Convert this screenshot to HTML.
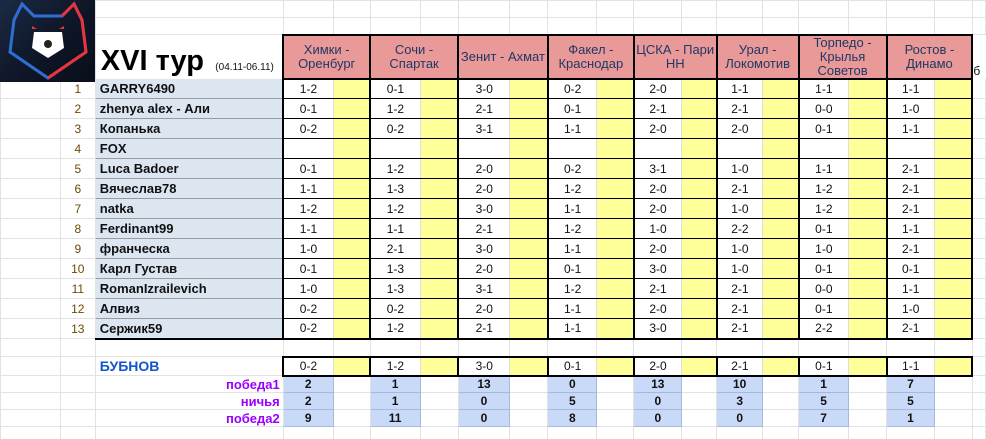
<!DOCTYPE html>
<html><head><meta charset="utf-8"><style>
html,body{margin:0;padding:0;background:#fff;width:986px;height:439px;overflow:hidden}
body{font-family:"Liberation Sans",Arial,sans-serif;position:relative}
table{border-collapse:collapse;table-layout:fixed;position:absolute;left:0;top:0}
td{border:1px solid #e2e2e2;padding:0;font-size:12px;text-align:center;overflow:hidden;white-space:nowrap;color:#111}
.n{color:#6b4a00;font-size:12px}
.nm{background:#dce6f1;text-align:left;padding-left:4px;font-weight:bold;font-size:13px;border:1px solid #9a9a9a;border-right:2px solid #000}
.s{background:#fff;border-top:1px solid #000;border-bottom:1px solid #000;border-left:2px solid #000;border-right:1px solid #ddd}
.y{background:#ffff99;border-top:1px solid #000;border-bottom:1px solid #000;border-right:2px solid #000;border-left:1px solid #ddd}
.h{background:#ea9999;border:2px solid #000;color:#1f3864;font-size:13px;white-space:normal;line-height:14px}
.last td.s,.last td.y,.last td.nm{border-bottom:2px solid #000}
.bb td.s,.bb td.y{border-top:2px solid #000;border-bottom:2px solid #000}
.st{background:#c9daf8;font-weight:bold;border:1px solid #a7b9d8}
.lb{color:#9900ff;font-weight:bold;text-align:right;padding-right:3px;font-size:13px}
</style></head><body>
<table>
<colgroup><col style="width:60px"><col style="width:35px"><col style="width:188px">
<col style="width:50px"><col style="width:37px"><col style="width:50px"><col style="width:38px"><col style="width:52px"><col style="width:38px"><col style="width:49px"><col style="width:37px"><col style="width:48px"><col style="width:35px"><col style="width:46px"><col style="width:36px"><col style="width:50px"><col style="width:38px"><col style="width:48px"><col style="width:38px"><col style="width:13px"></colgroup>
<tr style="height:17px"><td></td><td></td><td></td><td></td><td></td><td></td><td></td><td></td><td></td><td></td><td></td><td></td><td></td><td></td><td></td><td></td><td></td><td></td><td></td><td></td></tr>
<tr style="height:17px"><td></td><td></td><td></td><td></td><td></td><td></td><td></td><td></td><td></td><td></td><td></td><td></td><td></td><td></td><td></td><td></td><td></td><td></td><td></td><td></td></tr>
<tr style="height:44px"><td></td><td></td><td style="text-align:left;vertical-align:bottom;padding-left:5px;border-color:#fff"><span style="font-size:29px;font-weight:bold;color:#000;line-height:34px">XVI тур</span> <span style="font-size:10px;margin-left:8px">(04.11-06.11)</span></td>
<td class="h" colspan="2">Химки -<br>Оренбург</td><td class="h" colspan="2">Сочи -<br>Спартак</td><td class="h" colspan="2">Зенит - Ахмат</td><td class="h" colspan="2">Факел -<br>Краснодар</td><td class="h" colspan="2">ЦСКА - Пари<br>НН</td><td class="h" colspan="2">Урал -<br>Локомотив</td><td class="h" colspan="2">Торпедо -<br>Крылья<br>Советов</td><td class="h" colspan="2">Ростов -<br>Динамо</td><td style="text-align:left;vertical-align:bottom;border-color:#fff">б</td></tr>
<tr style="height:20px"><td></td><td class="n">1</td><td class="nm">GARRY6490</td><td class="s">1-2</td><td class="y"></td><td class="s">0-1</td><td class="y"></td><td class="s">3-0</td><td class="y"></td><td class="s">0-2</td><td class="y"></td><td class="s">2-0</td><td class="y"></td><td class="s">1-1</td><td class="y"></td><td class="s">1-1</td><td class="y"></td><td class="s">1-1</td><td class="y"></td><td></td></tr>
<tr style="height:20px"><td></td><td class="n">2</td><td class="nm">zhenya alex - Али</td><td class="s">0-1</td><td class="y"></td><td class="s">1-2</td><td class="y"></td><td class="s">2-1</td><td class="y"></td><td class="s">0-1</td><td class="y"></td><td class="s">2-1</td><td class="y"></td><td class="s">2-1</td><td class="y"></td><td class="s">0-0</td><td class="y"></td><td class="s">1-0</td><td class="y"></td><td></td></tr>
<tr style="height:20px"><td></td><td class="n">3</td><td class="nm">Копанька</td><td class="s">0-2</td><td class="y"></td><td class="s">0-2</td><td class="y"></td><td class="s">3-1</td><td class="y"></td><td class="s">1-1</td><td class="y"></td><td class="s">2-0</td><td class="y"></td><td class="s">2-0</td><td class="y"></td><td class="s">0-1</td><td class="y"></td><td class="s">1-1</td><td class="y"></td><td></td></tr>
<tr style="height:20px"><td></td><td class="n">4</td><td class="nm">FOX</td><td class="s"></td><td class="y"></td><td class="s"></td><td class="y"></td><td class="s"></td><td class="y"></td><td class="s"></td><td class="y"></td><td class="s"></td><td class="y"></td><td class="s"></td><td class="y"></td><td class="s"></td><td class="y"></td><td class="s"></td><td class="y"></td><td></td></tr>
<tr style="height:20px"><td></td><td class="n">5</td><td class="nm">Luca Badoer</td><td class="s">0-1</td><td class="y"></td><td class="s">1-2</td><td class="y"></td><td class="s">2-0</td><td class="y"></td><td class="s">0-2</td><td class="y"></td><td class="s">3-1</td><td class="y"></td><td class="s">1-0</td><td class="y"></td><td class="s">1-1</td><td class="y"></td><td class="s">2-1</td><td class="y"></td><td></td></tr>
<tr style="height:20px"><td></td><td class="n">6</td><td class="nm">Вячеслав78</td><td class="s">1-1</td><td class="y"></td><td class="s">1-3</td><td class="y"></td><td class="s">2-0</td><td class="y"></td><td class="s">1-2</td><td class="y"></td><td class="s">2-0</td><td class="y"></td><td class="s">2-1</td><td class="y"></td><td class="s">1-2</td><td class="y"></td><td class="s">2-1</td><td class="y"></td><td></td></tr>
<tr style="height:20px"><td></td><td class="n">7</td><td class="nm">natka</td><td class="s">1-2</td><td class="y"></td><td class="s">1-2</td><td class="y"></td><td class="s">3-0</td><td class="y"></td><td class="s">1-1</td><td class="y"></td><td class="s">2-0</td><td class="y"></td><td class="s">1-0</td><td class="y"></td><td class="s">1-2</td><td class="y"></td><td class="s">2-1</td><td class="y"></td><td></td></tr>
<tr style="height:20px"><td></td><td class="n">8</td><td class="nm">Ferdinant99</td><td class="s">1-1</td><td class="y"></td><td class="s">1-1</td><td class="y"></td><td class="s">2-1</td><td class="y"></td><td class="s">1-2</td><td class="y"></td><td class="s">1-0</td><td class="y"></td><td class="s">2-2</td><td class="y"></td><td class="s">0-1</td><td class="y"></td><td class="s">1-1</td><td class="y"></td><td></td></tr>
<tr style="height:20px"><td></td><td class="n">9</td><td class="nm">франческа</td><td class="s">1-0</td><td class="y"></td><td class="s">2-1</td><td class="y"></td><td class="s">3-0</td><td class="y"></td><td class="s">1-1</td><td class="y"></td><td class="s">2-0</td><td class="y"></td><td class="s">1-0</td><td class="y"></td><td class="s">1-0</td><td class="y"></td><td class="s">2-1</td><td class="y"></td><td></td></tr>
<tr style="height:20px"><td></td><td class="n">10</td><td class="nm">Карл Густав</td><td class="s">0-1</td><td class="y"></td><td class="s">1-3</td><td class="y"></td><td class="s">2-0</td><td class="y"></td><td class="s">0-1</td><td class="y"></td><td class="s">3-0</td><td class="y"></td><td class="s">1-0</td><td class="y"></td><td class="s">0-1</td><td class="y"></td><td class="s">0-1</td><td class="y"></td><td></td></tr>
<tr style="height:20px"><td></td><td class="n">11</td><td class="nm">RomanIzrailevich</td><td class="s">1-0</td><td class="y"></td><td class="s">1-3</td><td class="y"></td><td class="s">3-1</td><td class="y"></td><td class="s">1-2</td><td class="y"></td><td class="s">2-1</td><td class="y"></td><td class="s">2-1</td><td class="y"></td><td class="s">0-0</td><td class="y"></td><td class="s">1-1</td><td class="y"></td><td></td></tr>
<tr style="height:20px"><td></td><td class="n">12</td><td class="nm">Алвиз</td><td class="s">0-2</td><td class="y"></td><td class="s">0-2</td><td class="y"></td><td class="s">2-0</td><td class="y"></td><td class="s">1-1</td><td class="y"></td><td class="s">2-0</td><td class="y"></td><td class="s">2-1</td><td class="y"></td><td class="s">0-1</td><td class="y"></td><td class="s">1-0</td><td class="y"></td><td></td></tr>
<tr style="height:20px" class="last"><td></td><td class="n">13</td><td class="nm">Сержик59</td><td class="s">0-2</td><td class="y"></td><td class="s">1-2</td><td class="y"></td><td class="s">2-1</td><td class="y"></td><td class="s">1-1</td><td class="y"></td><td class="s">3-0</td><td class="y"></td><td class="s">2-1</td><td class="y"></td><td class="s">2-2</td><td class="y"></td><td class="s">2-1</td><td class="y"></td><td></td></tr>
<tr style="height:18px"><td></td><td></td><td></td><td></td><td></td><td></td><td></td><td></td><td></td><td></td><td></td><td></td><td></td><td></td><td></td><td></td><td></td><td></td><td></td><td></td></tr>
<tr style="height:19px" class="bb"><td></td><td></td><td style="text-align:left;padding-left:4px;color:#1155cc;font-weight:bold;font-size:14px">БУБНОВ</td><td class="s">0-2</td><td class="y"></td><td class="s">1-2</td><td class="y"></td><td class="s">3-0</td><td class="y"></td><td class="s">0-1</td><td class="y"></td><td class="s">2-0</td><td class="y"></td><td class="s">2-1</td><td class="y"></td><td class="s">0-1</td><td class="y"></td><td class="s">1-1</td><td class="y"></td><td></td></tr>
<tr style="height:17px"><td></td><td></td><td class="lb">победа1</td><td class="st">2</td><td></td><td class="st">1</td><td></td><td class="st">13</td><td></td><td class="st">0</td><td></td><td class="st">13</td><td></td><td class="st">10</td><td></td><td class="st">1</td><td></td><td class="st">7</td><td></td><td></td></tr>
<tr style="height:17px"><td></td><td></td><td class="lb">ничья</td><td class="st">2</td><td></td><td class="st">1</td><td></td><td class="st">0</td><td></td><td class="st">5</td><td></td><td class="st">0</td><td></td><td class="st">3</td><td></td><td class="st">5</td><td></td><td class="st">5</td><td></td><td></td></tr>
<tr style="height:17px"><td></td><td></td><td class="lb">победа2</td><td class="st">9</td><td></td><td class="st">11</td><td></td><td class="st">0</td><td></td><td class="st">8</td><td></td><td class="st">0</td><td></td><td class="st">0</td><td></td><td class="st">7</td><td></td><td class="st">1</td><td></td><td></td></tr>
<tr style="height:16px"><td></td><td></td><td></td><td></td><td></td><td></td><td></td><td></td><td></td><td></td><td></td><td></td><td></td><td></td><td></td><td></td><td></td><td></td><td></td><td></td></tr>
</table>
<div style="position:absolute;left:0;top:0;width:95px;height:82px;background:linear-gradient(135deg,#1b2a44,#0d1424 60%,#0a0f1c)">
<svg width="95" height="82" viewBox="0 0 95 82">
<path d="M22 4 L14 20 L10 52 L48 78 L86 52 L82 20 L74 4 L62 16 L34 16 Z" fill="none" stroke="#2e6fd6" stroke-width="3"/>
<path d="M62 16 L74 4 L82 20 L86 52 L48 78" fill="none" stroke="#e8343a" stroke-width="3"/>
<path d="M34 32 L62 32 L64 48 L48 58 L32 48 Z" fill="#fff"/>
<circle cx="48" cy="44" r="4" fill="#222"/>
<path d="M32 26 l5 3 l-5 0Z M64 26 l-5 3 l5 0Z" fill="#e8343a"/>
</svg></div>
</body></html>
